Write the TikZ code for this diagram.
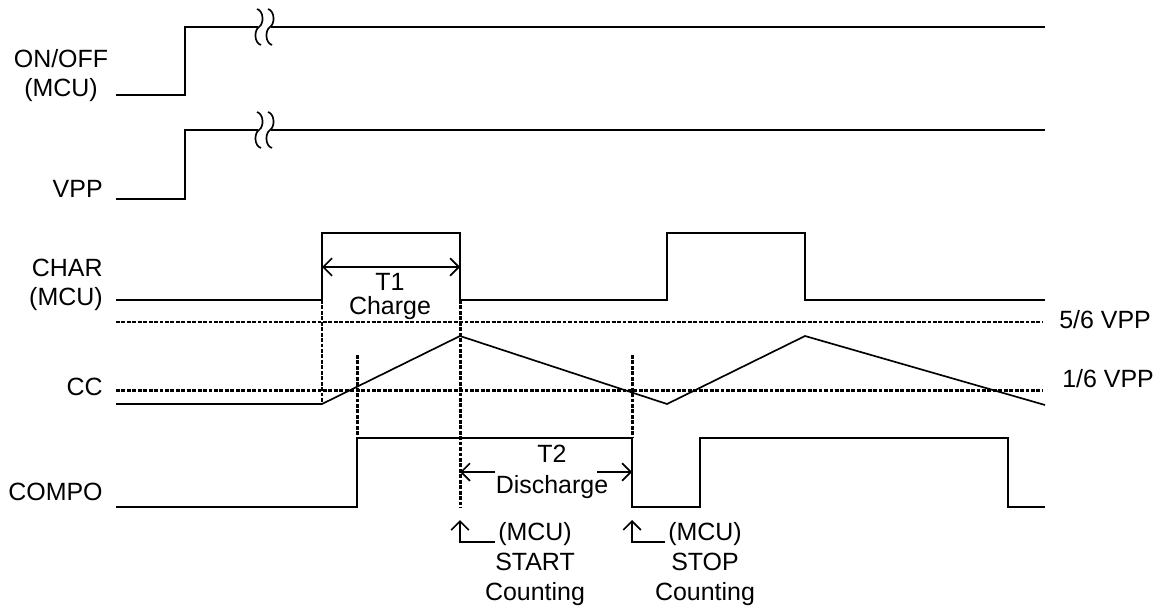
\documentclass[tikz,border=0pt]{standalone}
\usepackage{fontspec}
\setmainfont{Liberation Sans}
\usetikzlibrary{calc, positioning}
\usetikzlibrary{arrows.meta}

\tikzset{
  barb/.tip={Straight Barb[length=5pt, width=10pt]},
  signal/.style={line width=0.95pt},
  guide/.style={line width=1.7pt, dash pattern=on 2.2pt off 0.9pt},
  tag/.style={inner sep=0pt, font=\fontsize{14.2}{16.5}\selectfont, align=center},
  span/.style={signal, barb-barb},
  pointer/.style={signal, -barb}
}

\begin{document}
\begin{tikzpicture}[x=0.02cm, y=-0.02cm, line join=miter]
\useasboundingbox (0,0) rectangle (1158,605);
\def\xleft{116}
\def\xright{1045}
\def\tpower{185}
\def\tcharge{322}
\def\tpeak{460}
\def\tcross{357}
\def\tstop{632}
\def\tnext{667}
\def\tnextpeak{805}
\def\tcompo{700}
\def\tcompoend{1008}

% Signal names
\node[tag, anchor=base] (onofflabel) at (61,96) {ON/OFF\\(MCU)};
\node[tag, anchor=base east] (vpplabel) at (103,197) {VPP};
\node[tag, anchor=base east, align=right] (charlabel) at (103,305) {CHAR\\(MCU)};
\node[tag, anchor=base east] (cclabel) at (103,395) {CC};
\node[tag, anchor=base east] (compolabel) at (103,500) {COMPO};

% Power on, with the time break
\draw[signal] (\xleft,95) -- (\tpower,95) -- (\tpower,27) -- (258,27);
\draw[signal] (271,27) -- (\xright,27);
\draw[signal] (\xleft,199) -- (\tpower,199) -- (\tpower,130) -- (258,130);
\draw[signal] (271,130) -- (\xright,130);
\foreach \ly in {27,130}
  \foreach \bx in {259,270}
    \draw[signal] (\bx-2,\ly-18) .. controls (\bx+5,\ly-16) and (\bx+5,\ly-3) .. (\bx,\ly)
      .. controls (\bx-5,\ly+3) and (\bx-5,\ly+16) .. (\bx+2,\ly+18);

% Charge pulses
\draw[signal] (\xleft,300) -- (\tcharge,300) -- (\tcharge,233) -- (\tpeak,233) -- (\tpeak,300)
  -- (\tnext,300) -- (\tnext,233) -- (\tnextpeak,233) -- (\tnextpeak,300) -- (\xright,300);

% Thresholds
\draw[guide] (\xleft,322) -- (1042,322);
\draw[guide] (\xleft,390) -- (1042,390);
\node[tag, anchor=base west] (highlabel) at (1059,328) {5/6 VPP};
\node[tag, anchor=base west] (lowlabel) at (1062,387) {1/6 VPP};

% Capacitor voltage
\draw[signal] (\xleft,404) -- (\tcharge,404) -- (\tpeak,336) -- (\tnext,404) -- (\tnextpeak,336) -- (\xright,405);

% Comparator output
\draw[signal] (\xleft,507) -- (\tcross,507) -- (\tcross,438) -- (\tstop,438) -- (\tstop,507)
  -- (\tcompo,507) -- (\tcompo,438) -- (\tcompoend,438) -- (\tcompoend,507) -- (\xright,507);

% Time marks
\draw[guide] (\tcharge,300) -- (\tcharge,404);
\draw[guide] (\tpeak,300) -- (\tpeak,507);
\draw[guide] (\tcross,355) -- (\tcross,438);
\draw[guide] (\tstop,355) -- (\tstop,438);

% T1 and T2
\draw[span] (\tcharge,267) -- (\tpeak,267);
\node[tag, anchor=base, font=\fontsize{14.2}{13.6}\selectfont] (tonelabel) at (390,314) {T1\\Charge};
\draw[pointer] (495,472) -- (\tpeak,472);
\draw[pointer] (597,472) -- (\tstop,472);
\node[tag, anchor=base, font=\fontsize{14.2}{17.5}\selectfont] (ttwolabel) at (552,493) {T2\\Discharge};

% Counter start and stop
\draw[pointer] (495,542) -- (\tpeak,542) -- (\tpeak,520);
\draw[pointer] (665,542) -- (\tstop,542) -- (\tstop,520);
\node[tag, anchor=base, font=\fontsize{14.2}{17}\selectfont] (startlabel) at (535,600) {(MCU)\\START\\Counting};
\node[tag, anchor=base, font=\fontsize{14.2}{17}\selectfont] (stoplabel) at (705,600) {(MCU)\\STOP\\Counting};
\end{tikzpicture}
\end{document}
